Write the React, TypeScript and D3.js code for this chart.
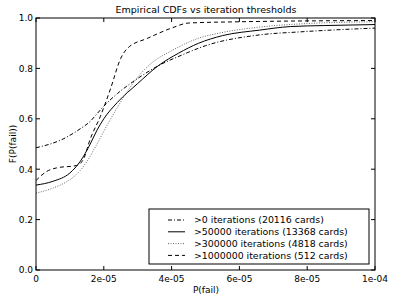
import React from "react";
import * as d3 from "d3";

// x values in units of 1e-5
const s0x = [0, 0.8, 1.3, 1.6, 1.8, 2.0, 2.4, 3.0, 3.6, 4.25, 5.0, 6.6, 7.8, 10];
const s0y = [0.485, 0.52, 0.56, 0.59, 0.62, 0.65, 0.70, 0.76, 0.81, 0.85, 0.89, 0.933, 0.945, 0.96];

const s1x = [0, 0.5, 1.0, 1.3, 1.6, 1.8, 2.0, 2.4, 3.0, 3.6, 4.2, 4.8, 5.5, 6.6, 7.5, 8.5, 10];
const s1y = [0.337, 0.352, 0.385, 0.43, 0.50, 0.555, 0.60, 0.665, 0.74, 0.81, 0.86, 0.90, 0.93, 0.952, 0.966, 0.97, 0.974];

const s2x = [0, 0.5, 0.9, 1.2, 1.5, 1.8, 2.1, 2.4, 2.7, 3.0, 3.4, 4.0, 4.8, 5.4, 6.6, 8.0, 10];
const s2y = [0.305, 0.325, 0.35, 0.38, 0.43, 0.50, 0.575, 0.645, 0.71, 0.765, 0.82, 0.87, 0.92, 0.94, 0.964, 0.978, 0.985];

const s3x = [0, 0.3, 0.6, 1.2, 1.4, 1.6, 1.9, 2.2, 2.5, 2.7, 3.3, 4.0, 4.5, 6.0, 10];
const s3y = [0.355, 0.39, 0.405, 0.415, 0.44, 0.52, 0.61, 0.72, 0.84, 0.88, 0.92, 0.96, 0.98, 0.985, 0.99];

const labels = [
  ">0 iterations (20116 cards)",
  ">50000 iterations (13368 cards)",
  ">300000 iterations (4818 cards)",
  ">1000000 iterations (512 cards)",
];
const dashes = ["4,2,1,2", "", "1,1.5", "4,3"];
const colors = ["#000", "#000", "#666", "#000"];

const xTicks = [0, 2e-5, 4e-5, 6e-5, 8e-5, 1e-4];
const xTickLabels = ["0", "2e-05", "4e-05", "6e-05", "8e-05", "1e-04"];
const yTicks = [0, 0.2, 0.4, 0.6, 0.8, 1.0];
const yTickLabels = ["0.0", "0.2", "0.4", "0.6", "0.8", "1.0"];

export default function App() {
  const W = 394, H = 298;
  const L = 36, R = 375, T = 18, B = 270;
  const x = d3.scaleLinear().domain([0, 1e-4]).range([L, R]);
  const y = d3.scaleLinear().domain([0, 1]).range([B, T]);
  const series = [
    [s0x, s0y],
    [s1x, s1y],
    [s2x, s2y],
    [s3x, s3y],
  ];
  const line = d3
    .line<[number, number]>()
    .x((d) => x(d[0] * 1e-5))
    .y((d) => y(d[1]))
    .curve(d3.curveMonotoneX);
  const font = "DejaVu Sans";
  const lgX = 149, lgY = 209, lgW = 220, lgH = 55;
  return (
    <svg width={W} height={H} style={{ position: "absolute", left: 0, top: 0 }} fontFamily={font}>
      <rect x={0} y={0} width={W} height={H} fill="#fff" />
      <text x={206} y={13} fontSize={9.5} textAnchor="middle">
        Empirical CDFs vs iteration thresholds
      </text>
      <defs>
        <clipPath id="clip">
          <rect x={L} y={T - 1} width={R - L} height={B - T + 1} />
        </clipPath>
      </defs>
      <g clipPath="url(#clip)">
        {series.map(([xs, ys], i) => (
          <path
            key={i}
            d={line(xs.map((v, j) => [v, ys[j]] as [number, number])) || ""}
            fill="none"
            stroke={colors[i]}
            strokeWidth={1}
            strokeDasharray={dashes[i] || undefined}
          />
        ))}
      </g>
      <rect x={L} y={T} width={R - L} height={B - T} fill="none" stroke="#000" strokeWidth={1} />
      {xTicks.map((t, i) => (
        <g key={"x" + i}>
          <line x1={x(t)} x2={x(t)} y1={B} y2={B - 4} stroke="#000" />
          <line x1={x(t)} x2={x(t)} y1={T} y2={T + 4} stroke="#000" />
          <text x={x(t)} y={281.5} fontSize={9} textAnchor="middle">
            {xTickLabels[i]}
          </text>
        </g>
      ))}
      {yTicks.map((t, i) => (
        <g key={"y" + i}>
          <line x1={L} x2={L + 4} y1={y(t)} y2={y(t)} stroke="#000" />
          <line x1={R} x2={R - 4} y1={y(t)} y2={y(t)} stroke="#000" />
          <text x={33} y={y(t) + 3.3} fontSize={9} textAnchor="end">
            {yTickLabels[i]}
          </text>
        </g>
      ))}
      <text x={206} y={293} fontSize={9} textAnchor="middle">
        P(fail)
      </text>
      <text
        transform={`translate(16,${(T + B) / 2}) rotate(-90)`}
        fontSize={9}
        textAnchor="middle"
      >
        F(P(fail))
      </text>
      <rect x={lgX} y={lgY} width={lgW} height={lgH} fill="#fff" stroke="#000" strokeWidth={1} />
      {labels.map((lab, i) => {
        const ry = 220 + i * 11.8;
        return (
          <g key={"l" + i}>
            <line
              x1={168}
              x2={185}
              y1={ry}
              y2={ry}
              stroke={colors[i]}
              strokeWidth={1}
              strokeDasharray={dashes[i] || undefined}
            />
            <text x={194} y={ry + 3.4} fontSize={9.4}>
              {lab}
            </text>
          </g>
        );
      })}
    </svg>
  );
}
